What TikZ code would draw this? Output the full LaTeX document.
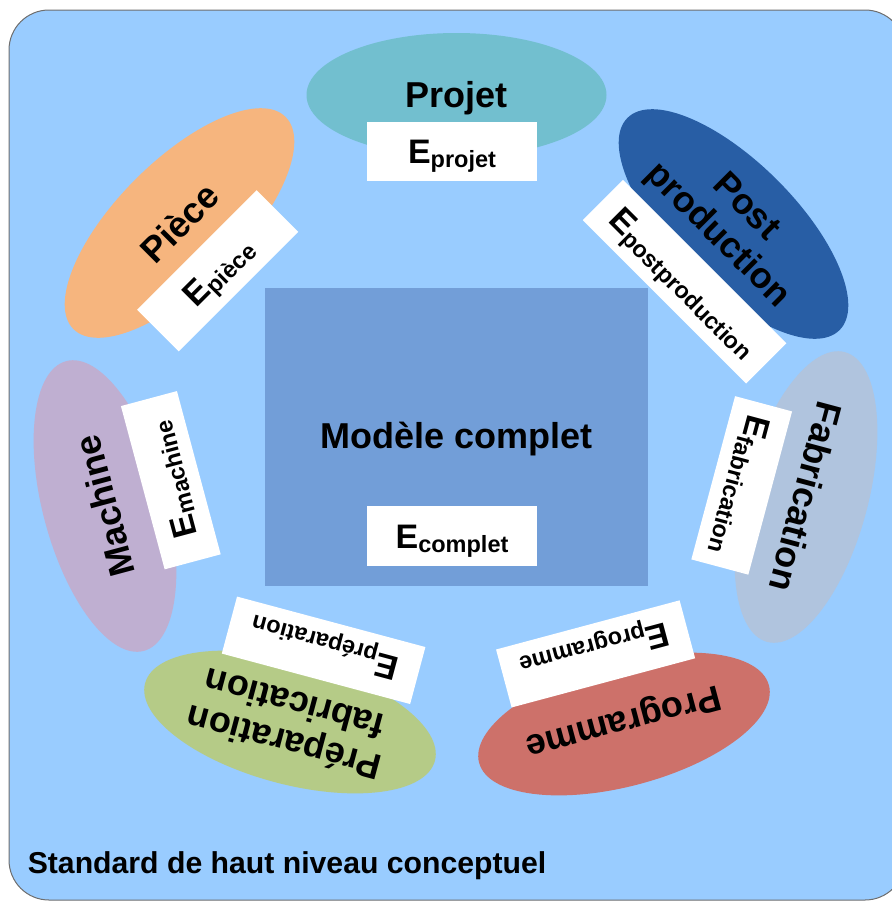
\documentclass[tikz,border=0pt]{standalone}
\usepackage{fontspec}
\setmainfont{Liberation Sans}
\usetikzlibrary{shapes.geometric}
\definecolor{bgblue}{RGB}{153,204,255}
\definecolor{centralc}{RGB}{114,158,216}
\definecolor{projetc}{RGB}{114,191,207}
\definecolor{piecec}{RGB}{246,181,126}
\definecolor{postc}{RGB}{40,94,165}
\definecolor{fabc}{RGB}{176,196,222}
\definecolor{progc}{RGB}{205,113,106}
\definecolor{prepc}{RGB}{181,203,135}
\definecolor{machc}{RGB}{191,175,209}
\definecolor{borderc}{RGB}{110,110,110}
\newcommand{\Elab}[1]{{\fontsize{34}{34}\selectfont E}\raisebox{-4pt}{\fontsize{23.5}{23.5}\selectfont #1}}
\begin{document}
\begin{tikzpicture}[x=1pt,y=-1pt,
  ell/.style={ellipse, minimum width=300pt, minimum height=124pt, inner sep=0pt, draw=none},
  ebox/.style={rectangle, fill=white, inner sep=0pt, minimum height=59pt, text height=24pt, text depth=0pt, font=\bfseries},
  labone/.style={inner sep=0pt, font=\fontsize{36}{41}\selectfont\bfseries, text height=25.5pt, text depth=0pt},
  labtwo/.style={inner sep=0pt, font=\fontsize{36}{40}\selectfont\bfseries, align=center}]
\useasboundingbox (0,0) rectangle (892,903);
\path[draw=borderc, line width=1pt, fill=bgblue, rounded corners=40pt] (9,10) rectangle (905,900);
% central model
\node[fill=centralc, minimum width=383pt, minimum height=298pt, inner sep=0pt, anchor=north west] (modele) at (265,288) {};
\node[inner sep=0pt, font=\fontsize{36}{40}\selectfont\bfseries, text height=25.5pt, text depth=0pt] (modeletxt) at (456.5,435.5) {Modèle complet};
\node[ebox, minimum width=170pt, minimum height=60pt] (ecomplet) at (452,536) {\Elab{complet}};
% ellipses
\node[ell, fill=projetc] (projet) at (456.5,95) {};
\node[ell, fill=postc, rotate=-45] (post) at (733.5,224) {};
\node[ell, fill=fabc, rotate=-105] (fab) at (806,497) {};
\node[ell, fill=progc, rotate=195] (prog) at (624,724) {};
\node[ell, fill=prepc, rotate=165] (prep) at (290,722) {};
\node[ell, fill=machc, rotate=105] (mach) at (105,506) {};
\node[ell, fill=piecec, rotate=45] (piece) at (179.5,223) {};
% labels
\node[labone] (projettxt) at (projet.center) {Projet};
\node[labtwo, rotate=-45] (posttxt) at (731,222) {Post\\production};
\node[labone, rotate=-105] (fabtxt) at (fab.center) {Fabrication};
\node[labone, rotate=195] (progtxt) at (prog.center) {Programme};
\node[labtwo, rotate=165] (preptxt) at (289,724) {Préparation\\fabrication};
\node[labone, rotate=105] (machtxt) at (mach.center) {Machine};
\node[labone, rotate=45] (piecetxt) at (piece.center) {Pièce};
% E boxes
\node[ebox, minimum width=170pt] (eprojet) at (452,151.5) {\Elab{projet}};
\node[ebox, minimum width=231pt, minimum height=57pt, rotate=-45] (epost) at (684.6,281.7) {\Elab{postproduction}};
\node[ebox, minimum width=169pt, rotate=-105] (efab) at (741.7,485.4) {\Elab{fabrication}};
\node[ebox, minimum width=190pt, minimum height=60pt, rotate=195] (eprog) at (595.6,653.9) {\Elab{programme}};
\node[ebox, minimum width=195pt, rotate=165] (eprep) at (323.6,650.3) {\Elab{préparation}};
\node[ebox, minimum width=169pt, minimum height=58pt, rotate=105] (emach) at (170.8,480.2) {\Elab{machine}};
\node[ebox, minimum width=169pt, rotate=45] (epiece) at (217.7,270.8) {\Elab{pièce}};
% caption
\node[anchor=base west, inner sep=0pt, font=\fontsize{30.2}{31}\selectfont\bfseries] (std) at (27.6,873.6) {Standard de haut niveau conceptuel};
\end{tikzpicture}
\end{document}
